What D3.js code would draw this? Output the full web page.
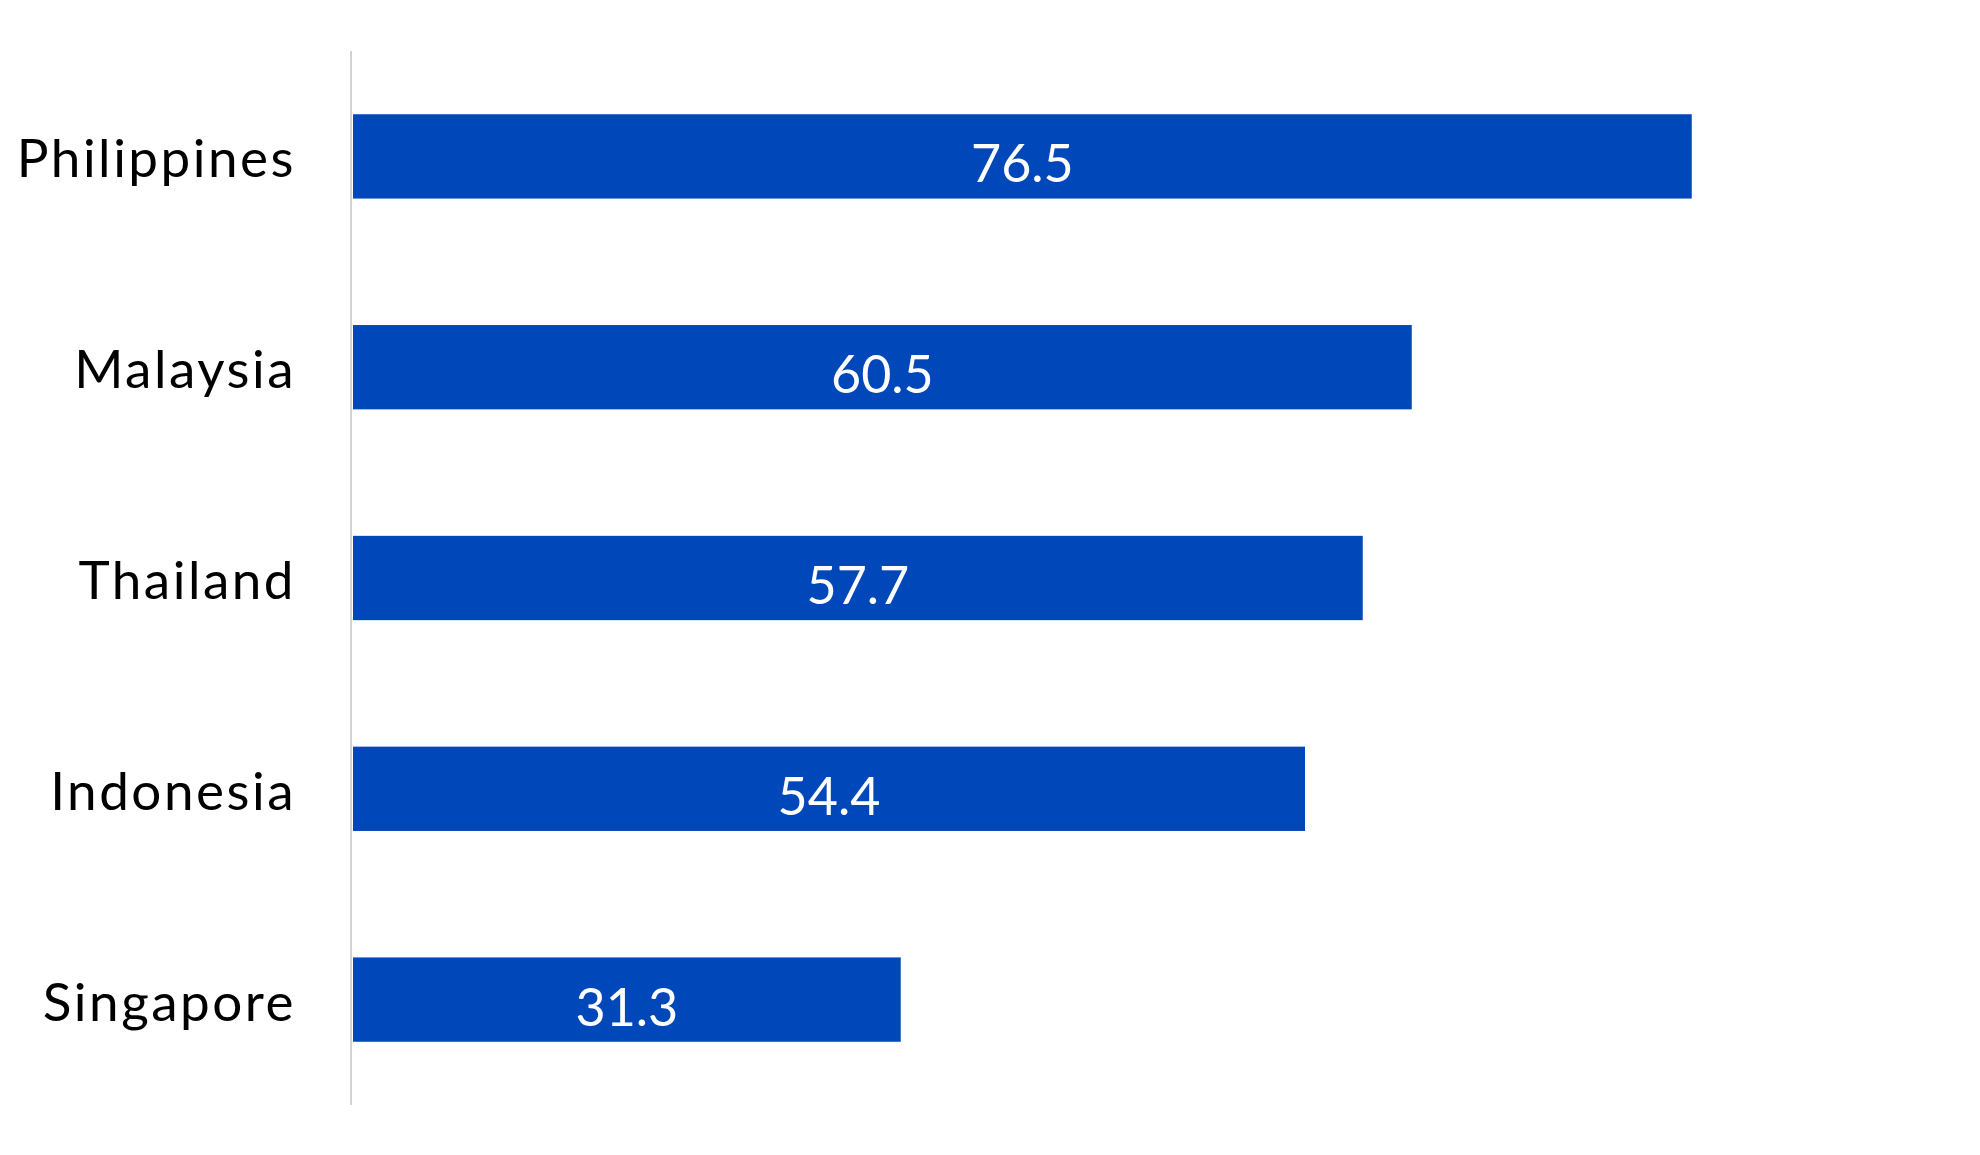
<!DOCTYPE html>
<html>
<head>
<meta charset="utf-8">
<script src="https://cdn.jsdelivr.net/npm/d3@7"></script>
<style>
  html, body { margin: 0; padding: 0; background: #ffffff; }
  svg { display: block; }
</style>
</head>
<body>
<svg id="chart" width="1980" height="1155"></svg>
<script>
const categories = ["Philippines", "Malaysia", "Thailand", "Indonesia", "Singapore"];
const values = [76.5, 60.5, 57.7, 54.4, 31.3];
const valueLabels = ["76.5", "60.5", "57.7", "54.4", "31.3"];

const svg = d3.select("#chart");
const fontFamily = "Lato, 'Noto Sans', sans-serif";

const x = d3.scaleLinear().domain([0, 90]).range([353, 1928]);
const y = d3.scaleBand().domain(categories).range([51, 1105]).paddingInner(0.6).paddingOuter(0.3);

// bars
svg.append("g").selectAll("rect")
  .data(categories)
  .join("rect")
  .attr("x", x(0))
  .attr("y", d => y(d))
  .attr("width", (d, i) => x(values[i]) - x(0))
  .attr("height", y.bandwidth())
  .attr("fill", "#0048BA");

// axis line
svg.append("line")
  .attr("x1", 351).attr("x2", 351)
  .attr("y1", y.range()[0]).attr("y2", y.range()[1])
  .attr("stroke", "#d3d3d3")
  .attr("stroke-width", 2);

// category labels
svg.append("g").selectAll("text")
  .data(categories)
  .join("text")
  .attr("x", 296)
  .attr("y", d => y(d) + y.bandwidth() / 2 + 21)
  .attr("text-anchor", "end")
  .attr("font-family", fontFamily)
  .attr("font-size", 53)
  .attr("letter-spacing", "2.5px")
  .attr("fill", "#000")
  .text(d => d);

// value labels
svg.append("g").selectAll("text")
  .data(categories)
  .join("text")
  .attr("x", (d, i) => (x(0) + x(values[i])) / 2)
  .attr("y", d => y(d) + y.bandwidth() / 2 + 26)
  .attr("text-anchor", "middle")
  .attr("font-family", fontFamily)
  .attr("font-size", 52)
  .attr("fill", "#ffffff")
  .text((d, i) => valueLabels[i]);
</script>
</body>
</html>
